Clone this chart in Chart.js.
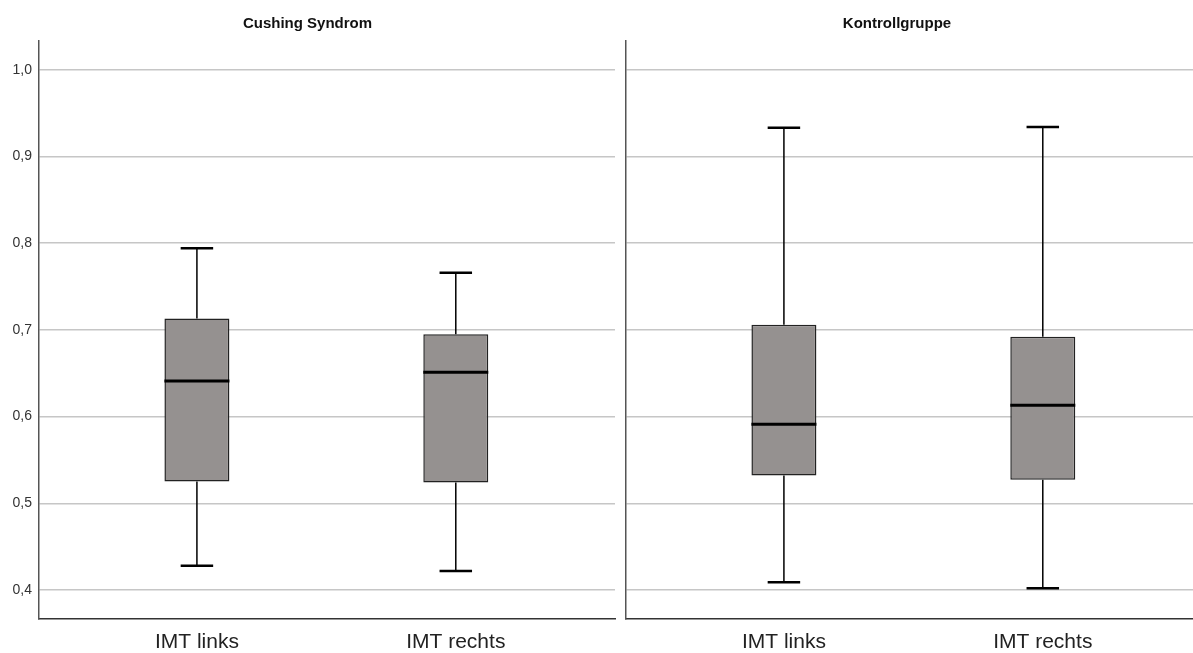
<!DOCTYPE html>
<html>
<head>
<meta charset="utf-8">
<script src="https://cdn.jsdelivr.net/npm/chart.js@4.4.1/dist/chart.umd.min.js"></script>
<style>
    body { margin: 0; background: #fff; overflow: hidden; }
    .panel { position: absolute; top: 0; height: 653px; }
    #left { left: 0; width: 620px; }
    #right { left: 592px; width: 610px; }
</style>
</head>
<body>
<div class="panel" id="left"><canvas id="cushingChart"></canvas></div>
<div class="panel" id="right"><canvas id="kontrollChart"></canvas></div>
<script>
const categories = ['IMT links', 'IMT rechts'];
const yTicks = [0.4, 0.5, 0.6, 0.7, 0.8, 0.9, 1.0];

// Cushing Syndrom
const cushingMin = [0.428, 0.422];
const cushingQ1 = [0.525, 0.524];
const cushingMedian = [0.641, 0.651];
const cushingQ3 = [0.713, 0.695];
const cushingMax = [0.794, 0.766];

// Kontrollgruppe
const kontrollMin = [0.409, 0.402];
const kontrollQ1 = [0.532, 0.527];
const kontrollMedian = [0.591, 0.613];
const kontrollQ3 = [0.706, 0.692];
const kontrollMax = [0.933, 0.934];

// whiskers, caps and median line drawn over the floating bars
const boxWhiskers = {
    id: 'boxWhiskers',
    afterDatasetsDraw(chart, args, opts) {
        const ctx = chart.ctx;
        const y = chart.scales.y;
        const meta = chart.getDatasetMeta(0);
        ctx.save();
        ctx.strokeStyle = '#000';
        meta.data.forEach((bar, i) => {
            const cx = bar.x;
            const w = bar.width;
            const pMin = y.getPixelForValue(opts.min[i]);
            const pMax = y.getPixelForValue(opts.max[i]);
            const pQ1 = y.getPixelForValue(opts.q1[i]);
            const pQ3 = y.getPixelForValue(opts.q3[i]);
            const pMed = y.getPixelForValue(opts.median[i]);

            ctx.lineWidth = 1.5;
            ctx.beginPath();
            ctx.moveTo(cx, pMax);
            ctx.lineTo(cx, pQ3);
            ctx.moveTo(cx, pQ1);
            ctx.lineTo(cx, pMin);
            ctx.stroke();

            ctx.lineWidth = 2.5;
            ctx.beginPath();
            ctx.moveTo(cx - w / 4, pMax);
            ctx.lineTo(cx + w / 4, pMax);
            ctx.moveTo(cx - w / 4, pMin);
            ctx.lineTo(cx + w / 4, pMin);
            ctx.stroke();

            ctx.lineWidth = 3;
            ctx.beginPath();
            ctx.moveTo(cx - w / 2, pMed);
            ctx.lineTo(cx + w / 2, pMed);
            ctx.stroke();
        });
        ctx.restore();
    }
};

function makeChart(id, title, mins, q1s, medians, q3s, maxs, showYLabels) {
    const ctx = document.getElementById(id);
    return new Chart(ctx, {
        type: 'bar',
        data: {
            datasets: [{
                data: categories.map((c, i) => ({ x: i, y: [q1s[i], q3s[i]] })),
                backgroundColor: '#959190',
                borderColor: '#222',
                borderWidth: 1.5,
                borderSkipped: false,
                barPercentage: 0.251,
                categoryPercentage: 1
            }]
        },
        options: {
            responsive: true,
            maintainAspectRatio: false,
            animation: false,
            layout: { padding: { right: showYLabels ? 5 : 0 } },
            plugins: {
                legend: { display: false },
                tooltip: { enabled: false },
                title: {
                    display: true,
                    text: title,
                    color: '#111',
                    font: { family: 'Liberation Sans', weight: 'bold', size: 15 },
                    padding: { top: 15, bottom: 7.7 }
                },
                boxWhiskers: { min: mins, q1: q1s, median: medians, q3: q3s, max: maxs }
            },
            scales: {
                x: {
                    type: 'linear',
                    offset: false,
                    min: -0.61,
                    max: 1.615,
                    afterBuildTicks: (scale) => {
                        scale.ticks = categories.map((c, i) => ({ value: i }));
                    },
                    afterFit: (scale) => { scale.height = 34; },
                    ticks: {
                        callback: (v) => categories[v],
                        color: '#222',
                        font: { family: 'Liberation Sans', size: 21 },
                        padding: 11,
                        maxRotation: 0
                    },
                    grid: { display: false, drawTicks: false },
                    border: { display: true, color: '#333', width: 1.5 }
                },
                y: {
                    min: 0.3665,
                    max: 1.0335,
                    beginAtZero: false,
                    afterBuildTicks: (scale) => {
                        scale.ticks = yTicks.map((v) => ({ value: v }));
                    },
                    afterFit: (scale) => { scale.width = showYLabels ? 39 : 34; },
                    ticks: {
                        display: showYLabels,
                        callback: (v) => v.toFixed(1).replace('.', ','),
                        color: '#333',
                        font: { family: 'Liberation Sans', size: 14 },
                        padding: 7
                    },
                    grid: { color: '#c6c6c6', lineWidth: 1.5, drawTicks: false },
                    border: { color: '#555', width: 1.5 }
                }
            }
        },
        plugins: [boxWhiskers]
    });
}

makeChart('cushingChart', 'Cushing Syndrom', cushingMin, cushingQ1, cushingMedian, cushingQ3, cushingMax, true);
makeChart('kontrollChart', 'Kontrollgruppe', kontrollMin, kontrollQ1, kontrollMedian, kontrollQ3, kontrollMax, false);
</script>
</body>
</html>
